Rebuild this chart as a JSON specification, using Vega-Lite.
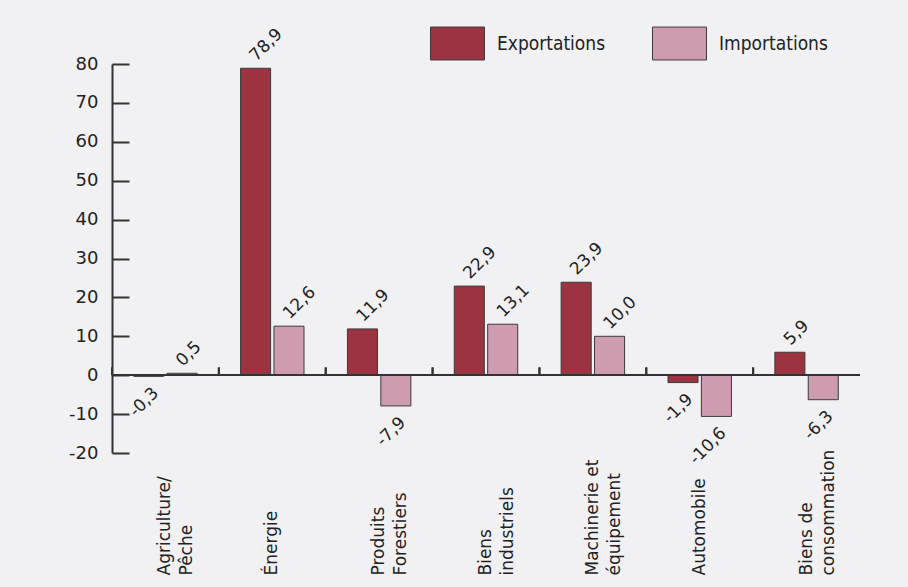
{
  "$schema": "https://vega.github.io/schema/vega-lite/v6.json",
  "autosize": {"type": "none"},
  "width": 748,
  "height": 389,
  "padding": {"left": 112, "top": 64, "right": 48, "bottom": 134},
  "background": "#f1f1f3",
  "config": {
    "view": {"stroke": null},
    "locale": {"number": {"decimal": ",", "thousands": " ", "grouping": [3], "currency": ["", " €"], "minus": "-"}},
    "font": "DejaVu Sans"
  },
  "data": {
    "values": [
      {"categorie": "Agriculture/ Pêche", "type": "Exportations", "valeur": -0.3},
      {"categorie": "Agriculture/ Pêche", "type": "Importations", "valeur": 0.5},
      {"categorie": "Énergie", "type": "Exportations", "valeur": 78.9},
      {"categorie": "Énergie", "type": "Importations", "valeur": 12.6},
      {"categorie": "Produits Forestiers", "type": "Exportations", "valeur": 11.9},
      {"categorie": "Produits Forestiers", "type": "Importations", "valeur": -7.9},
      {"categorie": "Biens industriels", "type": "Exportations", "valeur": 22.9},
      {"categorie": "Biens industriels", "type": "Importations", "valeur": 13.1},
      {"categorie": "Machinerie et équipement", "type": "Exportations", "valeur": 23.9},
      {"categorie": "Machinerie et équipement", "type": "Importations", "valeur": 10.0},
      {"categorie": "Automobile", "type": "Exportations", "valeur": -1.9},
      {"categorie": "Automobile", "type": "Importations", "valeur": -10.6},
      {"categorie": "Biens de consommation", "type": "Exportations", "valeur": 5.9},
      {"categorie": "Biens de consommation", "type": "Importations", "valeur": -6.3}
    ]
  },
  "encoding": {
    "x": {
      "field": "categorie", "type": "nominal", "sort": null,
      "scale": {"paddingInner": 0, "paddingOuter": 0},
      "axis": {
        "title": null, "domain": false, "ticks": false,
        "labelAngle": -90, "labelAlign": "left", "labelBaseline": "middle",
        "labelPadding": 122, "labelFontSize": 17, "labelColor": "#222", "labelFont": "DejaVu Sans",
        "labelLineHeight": 22,
        "labelExpr": "datum.value == 'Machinerie et équipement' ? ['Machinerie et', 'équipement'] : datum.value == 'Biens de consommation' ? ['Biens de', 'consommation'] : split(datum.value, ' ')"
      }
    },
    "y": {
      "field": "valeur", "type": "quantitative",
      "scale": {"domain": [-20, 80], "nice": false},
      "axis": {
        "title": null, "grid": false, "values": [-20, -10, 0, 10, 20, 30, 40, 50, 60, 70, 80],
        "tickSize": -17, "tickWidth": 2, "tickColor": "#333", "domainColor": "#333", "domainWidth": 2,
        "labelPadding": 31, "labelFontSize": 18, "labelColor": "#222", "labelFont": "DejaVu Sans"
      }
    }
  },
  "layer": [
    {
      "mark": {"type": "bar", "stroke": "#3a3a3a", "strokeWidth": 1},
      "encoding": {
        "xOffset": {"field": "type", "type": "nominal", "scale": {"paddingInner": 0.1, "paddingOuter": 0.65}},
        "color": {
          "field": "type", "type": "nominal",
          "scale": {"domain": ["Exportations", "Importations"], "range": ["#9b3440", "#cf9bb0"]},
          "legend": {
            "title": null, "orient": "none", "direction": "horizontal",
            "legendX": 318, "legendY": -48,
            "symbolType": "M-1,-0.61H1V0.61H-1Z", "symbolSize": 2916,
            "symbolStrokeColor": "#3a3a3a", "symbolStrokeWidth": 1,
            "labelFontSize": 19, "labelFont": "DejaVu Sans Condensed, DejaVu Sans", "labelColor": "#222",
            "labelOffset": 12, "columnPadding": 44
          }
        }
      }
    },
    {
      "mark": {"type": "rule", "stroke": "#333", "strokeWidth": 1.5},
      "encoding": {"x": null, "y": {"datum": 0}}
    },
    {
      "mark": {"type": "rule", "stroke": "#333", "strokeWidth": 2},
      "encoding": {
        "x": {"field": "categorie", "type": "nominal", "sort": null, "bandPosition": 0},
        "y": {"datum": 0},
        "y2": {"datum": 2}
      }
    },
    {
      "transform": [{"filter": "datum.valeur >= 0"}],
      "mark": {"type": "text", "angle": -45, "align": "left", "baseline": "middle", "dx": 5, "dy": -9, "fontSize": 17, "fill": "#222"},
      "encoding": {
        "xOffset": {"field": "type", "type": "nominal", "scale": {"paddingInner": 0.1, "paddingOuter": 0.65}},
        "text": {"field": "valeur", "type": "quantitative", "format": ".1f"}
      }
    },
    {
      "transform": [{"filter": "datum.valeur < 0"}],
      "mark": {"type": "text", "angle": -45, "align": "right", "baseline": "middle", "dx": -5, "dy": 15, "fontSize": 17, "fill": "#222"},
      "encoding": {
        "xOffset": {"field": "type", "type": "nominal", "scale": {"paddingInner": 0.1, "paddingOuter": 0.65}},
        "text": {"field": "valeur", "type": "quantitative", "format": ".1f"}
      }
    }
  ]
}
